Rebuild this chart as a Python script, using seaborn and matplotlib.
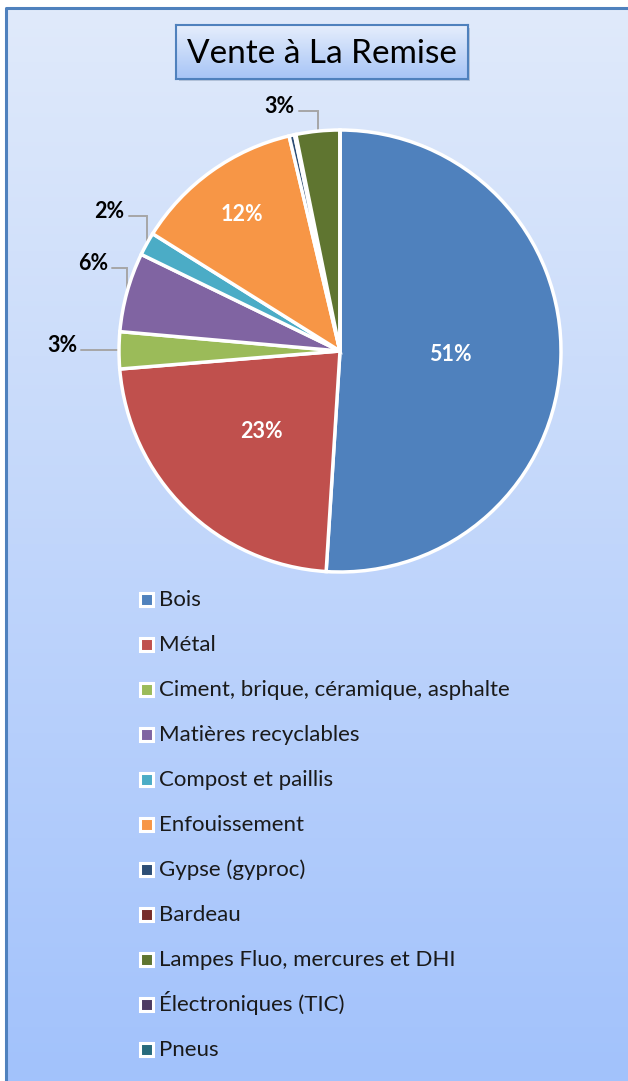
import numpy as np
import matplotlib
matplotlib.use('Agg')
import matplotlib.pyplot as plt
import matplotlib.colors as mcolors
from matplotlib.patches import Rectangle
import seaborn as sns

# Data (shares in %)
categories = ['Bois', 'Métal', 'Ciment, brique, céramique, asphalte',
              'Matières recyclables', 'Compost et paillis', 'Enfouissement',
              'Gypse (gyproc)', 'Bardeau', 'Lampes Fluo, mercures et DHI',
              'Électroniques (TIC)', 'Pneus']
shares = [51.0, 22.7, 2.7, 5.8, 1.7, 12.4, 0.4, 0.1, 3.2, 0.0, 0.0]
pct_labels = ['51%', '23%', '3%', '6%', '2%', '12%', '', '', '3%', '', '']
colors = ['#4F81BD', '#C0504D', '#9BBB59', '#8064A2', '#4BACC6', '#F79646',
          '#2C4D75', '#772C2A', '#5F7530', '#4D3B62', '#276A7C']

sns.set_theme(style='white')
plt.rcParams['font.family'] = ['Lato', 'DejaVu Sans']

W, H = 628, 1081
fig = plt.figure(figsize=(W / 100, H / 100), dpi=100)

def vgrad(top, bottom, n=256):
    t = np.linspace(0, 1, n)[:, None, None]
    a = np.array(mcolors.to_rgb(top))
    b = np.array(mcolors.to_rgb(bottom))
    return a + (b - a) * t

# chart area background with gradient (pixel coordinates, y down)
bg = fig.add_axes([0, 0, 1, 1])
bg.set_xlim(0, W)
bg.set_ylim(H, 0)
bg.axis('off')
bg.imshow(vgrad('#E0EAFA', '#A2C2FC'), extent=[6, W, H, 8], aspect='auto')
bg.plot([6, 6, W], [H, 8, 8], color='#4F81BD', lw=2.2)

# title box
bg.add_patch(Rectangle((179, 28), 291, 53, facecolor='#8A9BB5', alpha=0.45, lw=0))
tax = fig.add_axes([176 / W, 1 - 79 / H, 292 / W, 54 / H])
tax.imshow(vgrad('#E6EEFC', '#A6C4F6'), extent=[0, 1, 0, 1], aspect='auto')
tax.set_xticks([])
tax.set_yticks([])
for s in tax.spines.values():
    s.set_color('#4F81BD')
    s.set_linewidth(1.5)
tax.text(0.5, 0.47, 'Vente à La Remise', ha='center', va='center',
         fontsize=24, color='black', transform=tax.transAxes)

# pie
R = 221
cx, cy = 340, 351
ax = fig.add_axes([(cx - R) / W, (H - cy - R) / H, 2 * R / W, 2 * R / H])
wedges, _ = ax.pie(shares, colors=colors, startangle=90, counterclock=False,
                   radius=1, wedgeprops=dict(edgecolor='white', linewidth=2.5))
ax.set_xlim(-1, 1)
ax.set_ylim(-1, 1)
ax.axis('off')
for w in wedges:
    w.set_clip_on(False)

# data labels: inside ones at a fraction of the radius, outside ones with
# elbow leader lines (offset of text right/baseline from the anchor, px)
inside_r = {0: 0.50, 1: 0.51, 5: 0.76}
outside_off = {2: (-42, 2), 3: (-19, -22), 4: (-22, -26), 8: (-23, -18)}
for i, w in enumerate(wedges):
    if not pct_labels[i]:
        continue
    mid = np.deg2rad((w.theta1 + w.theta2) / 2)
    if i in inside_r:
        r = inside_r[i]
        ax.text(r * np.cos(mid), r * np.sin(mid), pct_labels[i], ha='center',
                va='center', color='white', fontsize=15.5, fontweight='bold')
    else:
        axp = cx + R * np.cos(mid)
        ayp = cy - R * np.sin(mid)
        dx, dy = outside_off[i]
        tx, ty = axp + dx, ayp + dy
        bg.text(tx, ty, pct_labels[i], ha='right', va='baseline',
                fontsize=15.5, fontweight='bold', color='black')
        ly = ty - 2
        bg.plot([tx + 4, axp, axp], [ly, ly, ayp], color='#A6A6A6', lw=1.4,
                solid_joinstyle='miter')

# legend
for i, (cat, c) in enumerate(zip(categories, colors)):
    y = 599.5 + 45 * i
    bg.add_patch(Rectangle((140, y - 6.5), 13, 13, facecolor=c,
                           edgecolor='white', linewidth=2.2))
    bg.text(159, y + 6.5, cat, ha='left', va='baseline', fontsize=16,
            color='#1a1a1a')

fig.savefig('out.png', dpi=100)
